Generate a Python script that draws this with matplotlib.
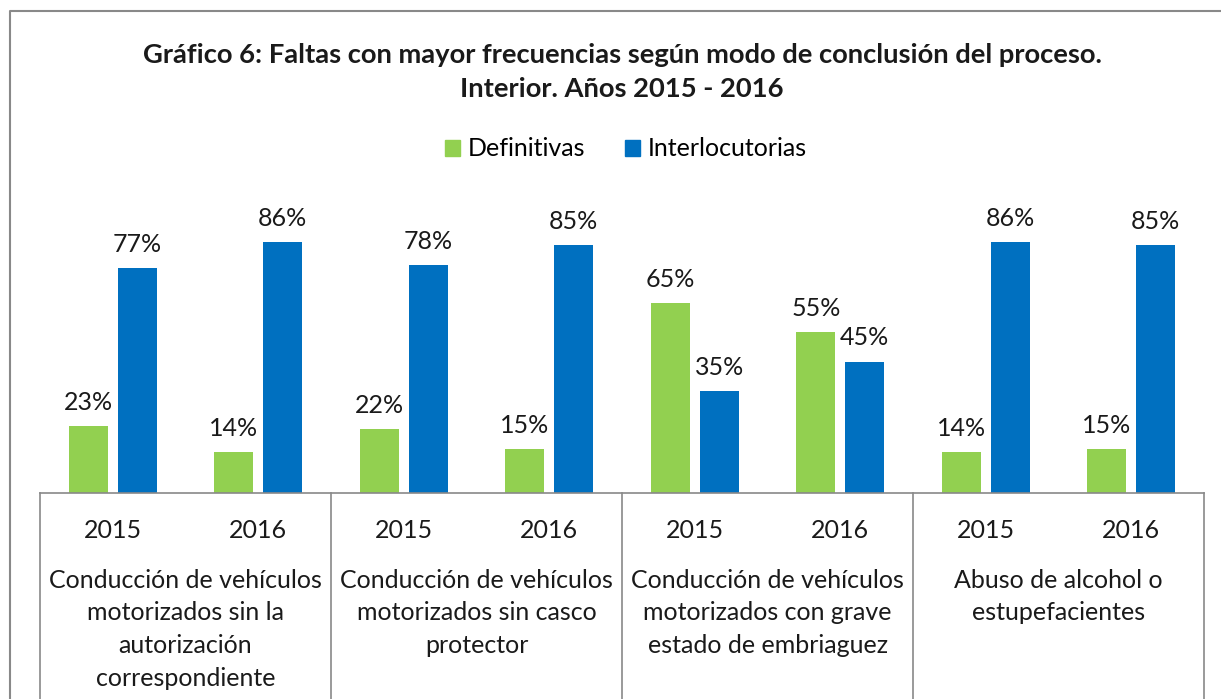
import matplotlib.pyplot as plt
from matplotlib.lines import Line2D
from matplotlib.patches import Patch
from matplotlib.transforms import blended_transform_factory

# Data
groups = [
    "Conducción de vehículos\nmotorizados sin la\nautorización\ncorrespondiente",
    "Conducción de vehículos\nmotorizados sin casco\nprotector",
    "Conducción de vehículos\nmotorizados con grave\nestado de embriaguez",
    "Abuso de alcohol o\nestupefacientes",
]
years = ["2015", "2016"]
definitivas = [23, 14, 22, 15, 65, 55, 14, 15]
interlocutorias = [77, 86, 78, 85, 35, 45, 86, 85]

GREEN = "#92D050"
BLUE = "#0070C0"
GRAY = "#898989"
INK = "#1a1a1a"
FS = 18

plt.rcParams["font.family"] = ["Lato", "DejaVu Sans"]

W, H = 1221, 699
fig = plt.figure(figsize=(W / 100, H / 100), dpi=100, facecolor="white")
ax = fig.add_axes([40 / W, (H - 493) / H, (1204 - 40) / W, 292 / H])
ax.set_xlim(0, 8)
ax.set_ylim(0, 100)
ax.axis("off")

n = len(definitivas)
centers = [i + 0.5 for i in range(n)]
bw = 0.268
off = 0.168

ax.bar([c - off for c in centers], definitivas, width=bw, color=GREEN)
ax.bar([c + off for c in centers], interlocutorias, width=bw, color=BLUE)

for c, d, it in zip(centers, definitivas, interlocutorias):
    ax.annotate(f"{d}%", (c - off, d), xytext=(0, 17), textcoords="offset points",
                ha="center", va="center", fontsize=FS, color=INK)
    ax.annotate(f"{it}%", (c + off, it), xytext=(0, 17), textcoords="offset points",
                ha="center", va="center", fontsize=FS, color=INK)

# Multi-level category axis
bt = blended_transform_factory(ax.transData, fig.transFigure)
ax.add_line(Line2D([0, 8], [0, 0], color=GRAY, lw=1.2, clip_on=False))
for x in range(0, 9, 2):
    ax.add_line(Line2D([x, x], [0, (H - 493) / H], transform=bt, color=GRAY,
                       lw=1.2, clip_on=False))

for i, c in enumerate(centers):
    fig.text(c, 1 - 530 / H, years[i % 2], transform=bt, ha="center",
             va="center", fontsize=FS, color=INK)

for g, label in enumerate(groups):
    fig.text(2 * g + 1, 1 - 569 / H, label, transform=bt, ha="center",
             va="top", fontsize=FS, color=INK, linespacing=1.5)

# Title and legend
fig.text(622 / W, 1 - 72 / H,
         "Gráfico 6: Faltas con mayor frecuencias según modo de conclusión del proceso.\n"
         "Interior. Años 2015 - 2016",
         ha="center", va="center", fontsize=19.7, fontweight="bold",
         color=INK, linespacing=1.46)

handles = [Patch(color=GREEN, label="Definitivas"),
           Patch(color=BLUE, label="Interlocutorias")]
fig.legend(handles=handles, loc="center", bbox_to_anchor=(626 / W, 1 - 149 / H),
           ncol=2, frameon=False, fontsize=FS, handlelength=0.6,
           handleheight=0.6, handletextpad=0.3, columnspacing=1.6)

# Outer chart border
fig.add_artist(Line2D([10 / W, 10 / W, 1], [0, 1 - 11 / H, 1 - 11 / H],
                      color=GRAY, lw=1.5))

fig.savefig("out.png", dpi=100, facecolor="white")
